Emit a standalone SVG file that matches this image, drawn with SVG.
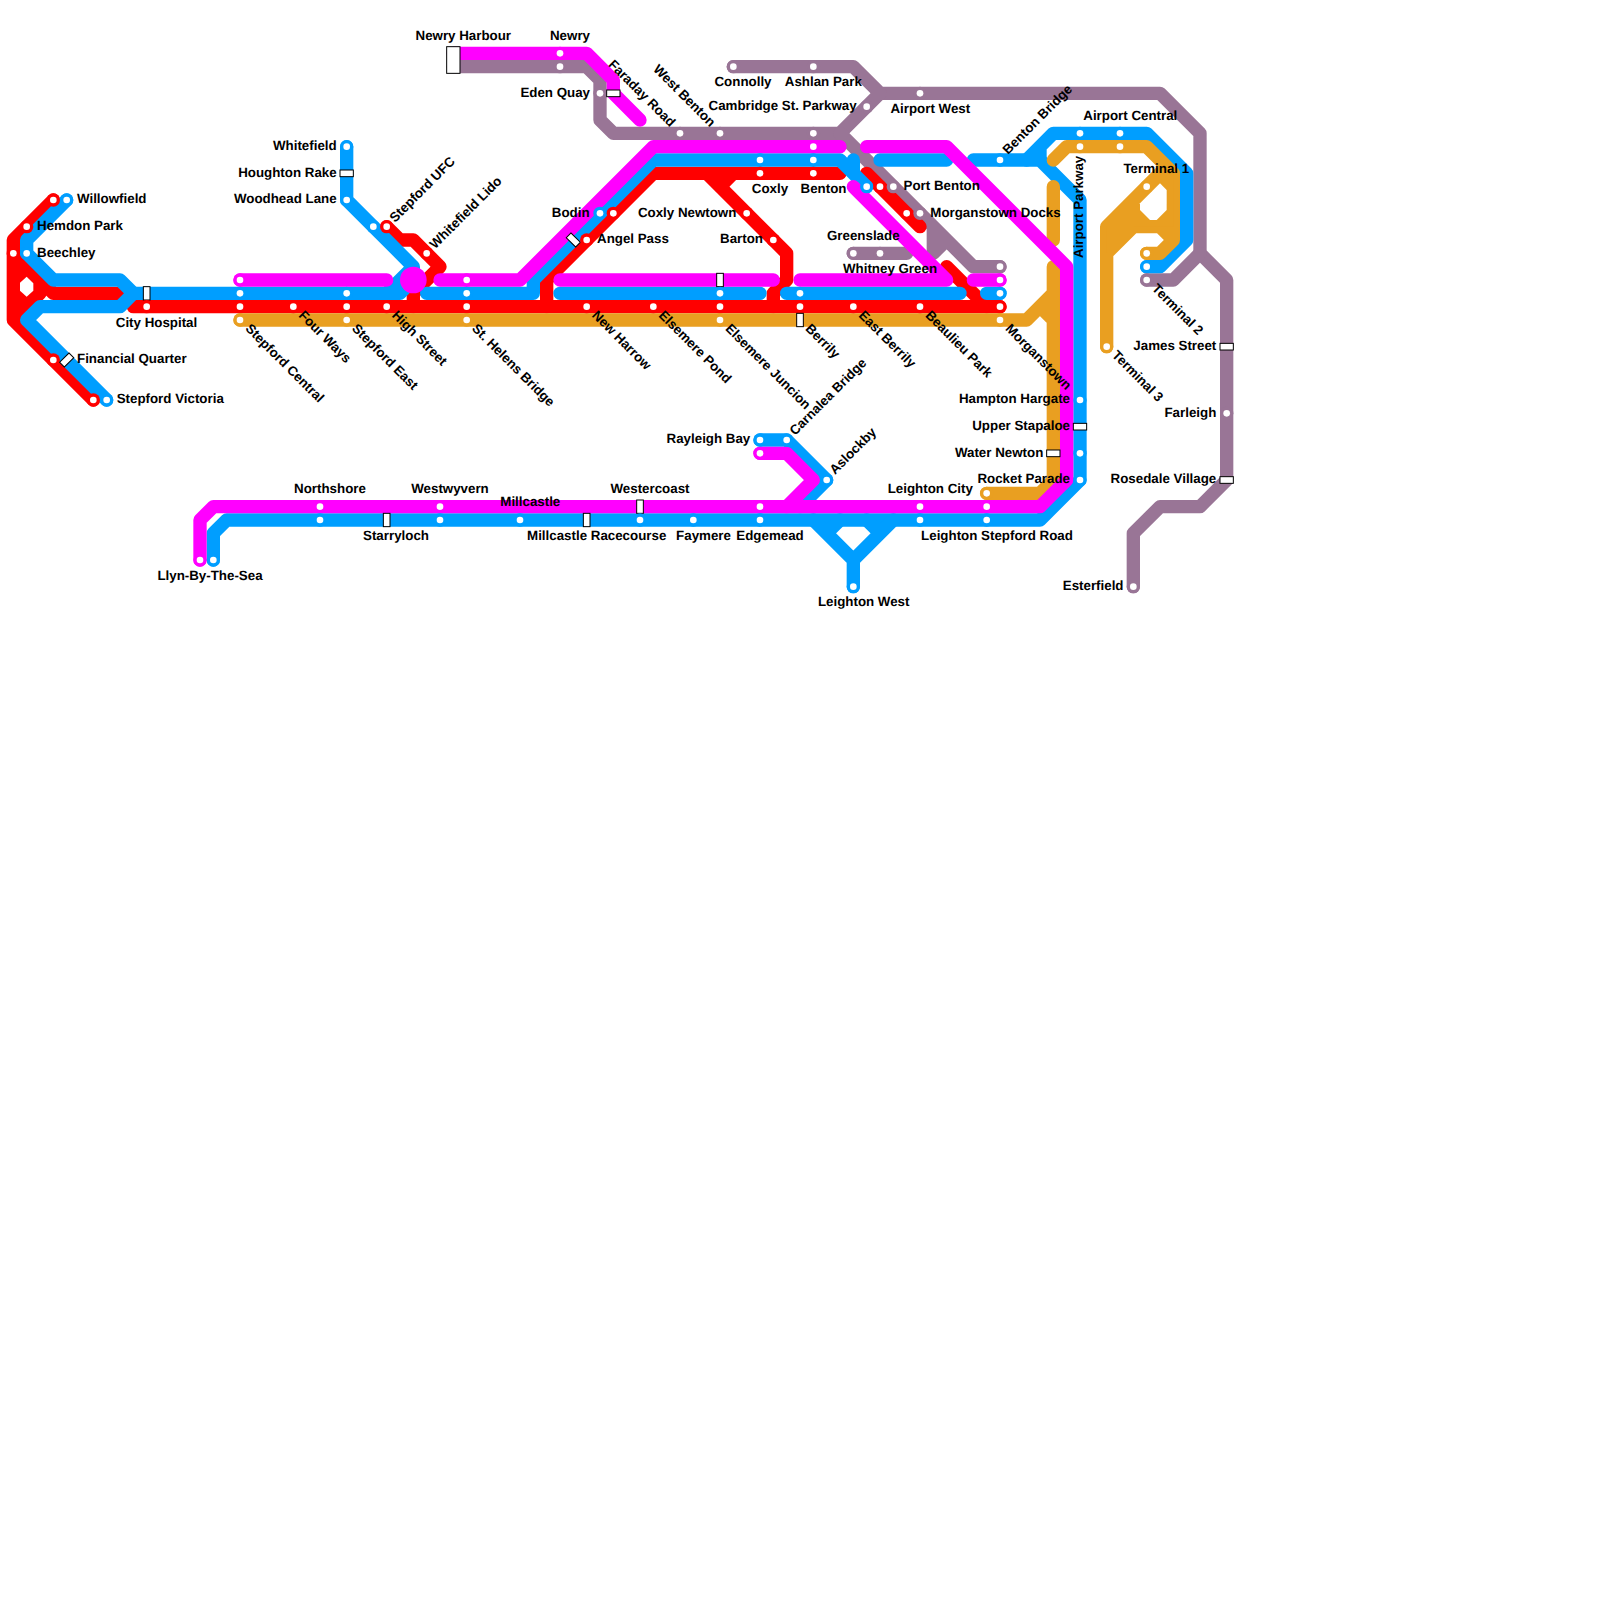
<svg xmlns="http://www.w3.org/2000/svg" width="1600" height="1600" viewBox="0 0 1600 1600">
<style>
text{font-family:"Liberation Sans",Arial,sans-serif;font-weight:700;font-size:13.33px;fill:#000;text-rendering:geometricPrecision}
.e{text-anchor:end}.m{text-anchor:middle}
#connectors path{fill:none;stroke-width:1;stroke-linecap:round;stroke-linejoin:round}
.pu{stroke:#997596}.re{stroke:#f00}.bl{stroke:#009eff}.or{stroke:#e99f21}.ma{stroke:#f0f}
.box{fill:#fff;stroke:#000;stroke-width:1}
</style>
<defs>
<g id="sp"><circle r="6.67" fill="#997596"/><circle r="3.33" fill="#fff"/></g>
<g id="sr"><circle r="6.67" fill="#f00"/><circle r="3.33" fill="#fff"/></g>
<g id="sb"><circle r="6.67" fill="#009eff"/><circle r="3.33" fill="#fff"/></g>
<g id="so"><circle r="6.67" fill="#e99f21"/><circle r="3.33" fill="#fff"/></g>
<g id="sm"><circle r="6.67" fill="#f0f"/><circle r="3.33" fill="#fff"/></g>
<rect id="bh" class="box" x="-6.67" y="-3.33" width="13.33" height="6.67"/>
<rect id="bv" class="box" x="-3.33" y="-6.67" width="6.67" height="13.33"/>
</defs>
<rect width="1600" height="1600" fill="#fff"/>
<g id="connectors" transform="scale(13.3333)">
<path class="pu" d="M55 5H64L66 7H87L90 10V19L92 21V36L90 38H87L85 40V44"/>
<path class="pu" d="M66 7L63 10H46L45 9V6L44 5H34"/>
<path class="pu" d="M63 10L73 20H75M70 17V19L71 18M64 19H68M86 21H88L90 19"/>
<polygon fill="#f00" points="1,19 4,22 3,22 1,24"/>
<path class="re" d="M7 30L1 24V18L4 15M1 19L4 22H10M1 24L3 22"/>
<path class="re" d="M10 23H75"/>
<path class="re" d="M29 17L30 18H31L33 20L31 22V23"/>
<path class="re" d="M41 23V21L49 13H63M53 13L59 19V21L58 22V23M55 13L54 14"/>
<path class="re" d="M65 13L69 17M71 20L74 23"/>
<polygon fill="#fff" points="1.5,21.2 2,20.75 2.5,21.25 2.5,21.8 2,22.25 1.5,21.8"/>
<path class="bl" d="M5 15L2 18V19L4 21H9L10 22L9 23H3L2 24L8 30"/>
<path class="bl" d="M10 22H30L31 21V20L26 15V11M31 20L29 22"/>
<path class="bl" d="M32 22H40V21L49 12H63L65 14M64 12V13"/>
<path class="bl" d="M42 22H57M59 22H72M74 22H75M66 12H71"/>
<path class="bl" d="M73 12H78L81 15V36L78 39H17L16 40V42"/>
<path class="bl" d="M77 12L79 10H86L89 13V18L87 20H86M78 11V12"/>
<path class="bl" d="M57 33H59L62 36L60 38M64 44V42L61 39M64 42L67 39M63 39L62 40M65 39L66 40"/>
<path class="or" d="M18 24H77L79 22M78 23L79 24M74 37H78L79 36V20M79 14V18"/>
<path class="or" d="M79 12L80 11H86L88 13V18L87 19H86M83 26V17L87 13M83 19L85 17H87L88 18"/>
<polygon fill="#e99f21" points="83,17 87,13 87.5,12.5 88,13 88,17 85,17 83,19"/>
<polygon fill="#fff" points="85.5,15.25 87,13.75 87.5,14.25 87.5,15.75 86.75,16.5 86.25,16.5 85.5,15.75"/>
<path class="ma" d="M18 21H29M33 21H39L49 11H63M42 21H58M60 21H71L64 14M73 21H75"/>
<path class="ma" d="M65 11H71L80 20V36L78 38H16L15 39V42"/>
<path class="ma" d="M34 4H44L46 6V7L48 9M57 34H59L61 36L59 38"/>
</g>
<g id="nodes">
<g id="n-willowfield"><use href="#sr" x="53.33" y="200"/><use href="#sb" x="66.67" y="200"/><text x="77" y="203.3">Willowfield</text></g>
<g id="n-hemdon-park"><use href="#sr" x="26.67" y="226.67"/><text x="37" y="230">Hemdon Park</text></g>
<g id="n-beechley"><use href="#sr" x="13.33" y="253.33"/><use href="#sb" x="26.67" y="253.33"/><text x="37" y="256.67">Beechley</text></g>
<g id="n-city-hospital"><use href="#bv" x="146.67" y="293.33"/><use href="#sr" x="146.67" y="306.67"/><text class="m" x="156.5" y="326.67">City Hospital</text></g>
<g id="n-financial-quarter"><use href="#sr" x="53.33" y="360"/><use href="#bh" transform="translate(66.67 360) rotate(-45)"/><text x="77" y="363.33">Financial Quarter</text></g>
<g id="n-stepford-victoria"><use href="#sr" x="93.33" y="400"/><use href="#sb" x="106.67" y="400"/><text x="116.67" y="403.33">Stepford Victoria</text></g>
<g id="n-whitefield"><use href="#sb" x="346.67" y="146.67"/><text class="e" x="336.67" y="150">Whitefield</text></g>
<g id="n-houghton-rake"><use href="#bh" x="346.67" y="173.33"/><text class="e" x="336.67" y="176.67">Houghton Rake</text></g>
<g id="n-woodhead-lane"><use href="#sb" x="346.67" y="200"/><text class="e" x="336.67" y="203.33">Woodhead Lane</text></g>
<g id="n-stepford-ufc"><use href="#sb" x="373.33" y="226.67"/><use href="#sr" x="386.67" y="226.67"/><text transform="translate(395 223) rotate(-45)">Stepford UFC</text></g>
<g id="n-whitefield-lido"><use href="#sr" x="426.67" y="253.33"/><text transform="translate(435 249.5) rotate(-45)">Whitefield Lido</text></g>
<g id="n-stepford-central"><use href="#sm" x="240" y="280"/><use href="#sb" x="240" y="293.33"/><use href="#sr" x="240" y="306.67"/><use href="#so" x="240" y="320"/><text transform="translate(244.67 329.33) rotate(45)">Stepford Central</text></g>
<g id="n-four-ways"><use href="#sr" x="293.33" y="306.67"/><text transform="translate(298 316) rotate(45)">Four Ways</text></g>
<g id="n-stepford-east"><use href="#sb" x="346.67" y="293.33"/><use href="#sr" x="346.67" y="306.67"/><use href="#so" x="346.67" y="320"/><text transform="translate(351.33 329.33) rotate(45)">Stepford East</text></g>
<g id="n-high-street"><circle cx="413.33" cy="280" r="13.33" fill="#f0f"/><use href="#sr" x="386.67" y="306.67"/><text transform="translate(391.33 316) rotate(45)">High Street</text></g>
<g id="n-st-helens-bridge"><use href="#sm" x="466.67" y="280"/><use href="#sb" x="466.67" y="293.33"/><use href="#sr" x="466.67" y="306.67"/><use href="#so" x="466.67" y="320"/><text transform="translate(471.33 329.33) rotate(45)">St. Helens Bridge</text></g>
<g id="n-new-harrow"><use href="#sr" x="586.67" y="306.67"/><text transform="translate(591.33 316) rotate(45)">New Harrow</text></g>
<g id="n-elsemere-pond"><use href="#sr" x="653.33" y="306.67"/><text transform="translate(658 316) rotate(45)">Elsemere Pond</text></g>
<g id="n-elsemere-juncion"><use href="#bv" x="720" y="280"/><use href="#sb" x="720" y="293.33"/><use href="#sr" x="720" y="306.67"/><use href="#so" x="720" y="320"/><text transform="translate(724.67 329.33) rotate(45)">Elsemere Juncion</text></g>
<g id="n-berrily"><use href="#sb" x="800" y="293.33"/><use href="#sr" x="800" y="306.67"/><use href="#bv" x="800" y="320"/><text transform="translate(804.67 329.33) rotate(45)">Berrily</text></g>
<g id="n-east-berrily"><use href="#sr" x="853.33" y="306.67"/><text transform="translate(858 316) rotate(45)">East Berrily</text></g>
<g id="n-beaulieu-park"><use href="#sr" x="920" y="306.67"/><text transform="translate(924.67 316) rotate(45)">Beaulieu Park</text></g>
<g id="n-morganstown"><use href="#sp" x="1000" y="266.67"/><use href="#sm" x="1000" y="280"/><use href="#sb" x="1000" y="293.33"/><use href="#sr" x="1000" y="306.67"/><use href="#so" x="1000" y="320"/><text transform="translate(1004.67 329.33) rotate(45)">Morganstown</text></g>
<g id="n-newry-harbour"><rect class="box" x="446.67" y="46.67" width="13.33" height="26.67"/><text class="m" x="463.3" y="40">Newry Harbour</text></g>
<g id="n-newry"><use href="#sm" x="560" y="53.33"/><use href="#sp" x="560" y="66.67"/><text class="m" x="570" y="40">Newry</text></g>
<g id="n-eden-quay"><use href="#sp" x="600" y="93.33"/><text class="e" x="590" y="96.67">Eden Quay</text></g>
<g id="n-faraday-road"><use href="#bh" x="613.33" y="93.33"/><use href="#sp" x="680" y="133.33"/><text class="e" transform="translate(670 127.5) rotate(45)">Faraday Road</text></g>
<g id="n-west-benton"><use href="#sp" x="720" y="133.33"/><text class="e" transform="translate(710 127.5) rotate(45)">West Benton</text></g>
<g id="n-connolly"><use href="#sp" x="733.33" y="66.67"/><text class="m" x="743" y="86.2">Connolly</text></g>
<g id="n-ashlan-park"><use href="#sp" x="813.33" y="66.67"/><text class="m" x="823.3" y="86.2">Ashlan Park</text></g>
<g id="n-cambridge-st-parkway"><use href="#sp" x="866.67" y="106.67"/><text class="e" x="856.67" y="110">Cambridge St. Parkway</text></g>
<g id="n-airport-west"><use href="#sp" x="920" y="93.33"/><text class="m" x="930.3" y="113.33">Airport West</text></g>
<g id="n-benton"><use href="#sp" x="813.33" y="133.33"/><use href="#sm" x="813.33" y="146.67"/><use href="#sb" x="813.33" y="160"/><use href="#sr" x="813.33" y="173.33"/><text class="m" x="823.5" y="193.33">Benton</text></g>
<g id="n-coxly"><use href="#sb" x="760" y="160"/><use href="#sr" x="760" y="173.33"/><text class="m" x="770" y="193.33">Coxly</text></g>
<g id="n-bodin"><use href="#sb" x="600" y="213.33"/><use href="#sr" x="613.33" y="213.33"/><text class="e" x="589.6" y="216.67">Bodin</text></g>
<g id="n-angel-pass"><use href="#bh" transform="translate(573.33 240) rotate(45)"/><use href="#sr" x="586.67" y="240"/><text x="597" y="243.33">Angel Pass</text></g>
<g id="n-coxly-newtown"><use href="#sr" x="746.67" y="213.33"/><text class="e" x="736.4" y="216.67">Coxly Newtown</text></g>
<g id="n-barton"><use href="#sr" x="773.33" y="240"/><text class="e" x="763" y="243.33">Barton</text></g>
<g id="n-port-benton"><use href="#sb" x="866.67" y="186.67"/><use href="#sr" x="880" y="186.67"/><use href="#sp" x="893.33" y="186.67"/><text x="903.6" y="190">Port Benton</text></g>
<g id="n-morganstown-docks"><use href="#sr" x="906.67" y="213.33"/><use href="#sp" x="920" y="213.33"/><text x="930.3" y="216.67">Morganstown Docks</text></g>
<g id="n-greenslade"><use href="#sp" x="853.33" y="253.33"/><use href="#sp" x="880" y="253.33"/><text class="m" x="863.3" y="240">Greenslade</text></g>
<text id="l-whitney-green" class="m" x="890" y="273.33">Whitney Green</text>
<g id="n-benton-bridge"><use href="#sb" x="1000" y="160"/><text transform="translate(1008 155) rotate(-45)">Benton Bridge</text></g>
<g id="n-airport-central"><use href="#sb" x="1080" y="133.33"/><use href="#so" x="1080" y="146.67"/><use href="#sb" x="1120" y="133.33"/><use href="#so" x="1120" y="146.67"/><text class="m" x="1130.3" y="120">Airport Central</text></g>
<text id="l-airport-parkway" transform="translate(1082.7 258) rotate(-90)">Airport Parkway</text>
<g id="n-terminal-1"><use href="#so" x="1146.67" y="186.67"/><text class="m" x="1156.3" y="173.33">Terminal 1</text></g>
<g id="n-terminal-2"><use href="#so" x="1146.67" y="253.33"/><use href="#sb" x="1146.67" y="266.67"/><use href="#sp" x="1146.67" y="280"/><text transform="translate(1151.33 289.33) rotate(45)">Terminal 2</text></g>
<g id="n-terminal-3"><use href="#so" x="1106.67" y="346.67"/><text transform="translate(1111.33 356) rotate(45)">Terminal 3</text></g>
<g id="n-james-street"><use href="#bh" x="1226.67" y="346.67"/><text class="e" x="1216.3" y="350">James Street</text></g>
<g id="n-farleigh"><use href="#sp" x="1226.67" y="413.33"/><text class="e" x="1216.3" y="416.67">Farleigh</text></g>
<g id="n-rosedale-village"><use href="#bh" x="1226.67" y="480"/><text class="e" x="1216.3" y="483.33">Rosedale Village</text></g>
<g id="n-esterfield"><use href="#sp" x="1133.33" y="586.67"/><text class="e" x="1123.5" y="590">Esterfield</text></g>
<g id="n-hampton-hargate"><use href="#sb" x="1080" y="400"/><text class="e" x="1070" y="403.33">Hampton Hargate</text></g>
<g id="n-upper-stapaloe"><use href="#bh" x="1080" y="426.67"/><text class="e" x="1070" y="430">Upper Stapaloe</text></g>
<g id="n-water-newton"><use href="#bh" x="1053.33" y="453.33"/><use href="#sb" x="1080" y="453.33"/><text class="e" x="1043.3" y="456.67">Water Newton</text></g>
<g id="n-rocket-parade"><use href="#sb" x="1080" y="480"/><use href="#so" x="986.67" y="493.33"/><text class="e" x="1070" y="483.33">Rocket Parade</text></g>
<g id="n-leighton-city"><use href="#sm" x="920" y="506.67"/><use href="#sb" x="920" y="520"/><text class="m" x="930.3" y="493.33">Leighton City</text></g>
<g id="n-leighton-stepford-road"><use href="#sm" x="986.67" y="506.67"/><use href="#sb" x="986.67" y="520"/><text class="m" x="997" y="539.6">Leighton Stepford Road</text></g>
<g id="n-leighton-west"><use href="#sb" x="853.33" y="586.67"/><text class="m" x="863.7" y="606.4">Leighton West</text></g>
<g id="n-aslockby"><use href="#sb" x="826.67" y="480"/><text transform="translate(835 475) rotate(-45)">Aslockby</text></g>
<g id="n-carnalea-bridge"><use href="#sb" x="786.67" y="440"/><text transform="translate(795 436) rotate(-45)">Carnalea Bridge</text></g>
<g id="n-rayleigh-bay"><use href="#sb" x="760" y="440"/><use href="#sm" x="760" y="453.33"/><text class="e" x="750.3" y="443.33">Rayleigh Bay</text></g>
<g id="n-edgemead"><use href="#sm" x="760" y="506.67"/><use href="#sb" x="760" y="520"/><text class="m" x="770" y="539.6">Edgemead</text></g>
<g id="n-faymere"><use href="#sb" x="693.33" y="520"/><text class="m" x="703.5" y="539.6">Faymere</text></g>
<g id="n-westercoast"><use href="#bv" x="640" y="506.67"/><use href="#sb" x="640" y="520"/><text class="m" x="650" y="493.33">Westercoast</text></g>
<g id="n-millcastle-racecourse"><use href="#bv" x="586.67" y="520"/><text class="m" x="596.7" y="539.6">Millcastle Racecourse</text></g>
<g id="n-millcastle"><use href="#sb" x="520" y="520"/><text class="m" x="530.3" y="506.2">Millcastle</text></g>
<g id="n-westwyvern"><use href="#sm" x="440" y="506.67"/><use href="#sb" x="440" y="520"/><text class="m" x="450" y="493.33">Westwyvern</text></g>
<g id="n-starryloch"><use href="#bv" x="386.67" y="520"/><text class="m" x="396" y="539.6">Starryloch</text></g>
<g id="n-northshore"><use href="#sm" x="320" y="506.67"/><use href="#sb" x="320" y="520"/><text class="m" x="330" y="493.33">Northshore</text></g>
<g id="n-llyn-by-the-sea"><use href="#sm" x="200" y="560"/><use href="#sb" x="213.33" y="560"/><text class="m" x="210" y="580">Llyn-By-The-Sea</text></g>
</g>
</svg>
